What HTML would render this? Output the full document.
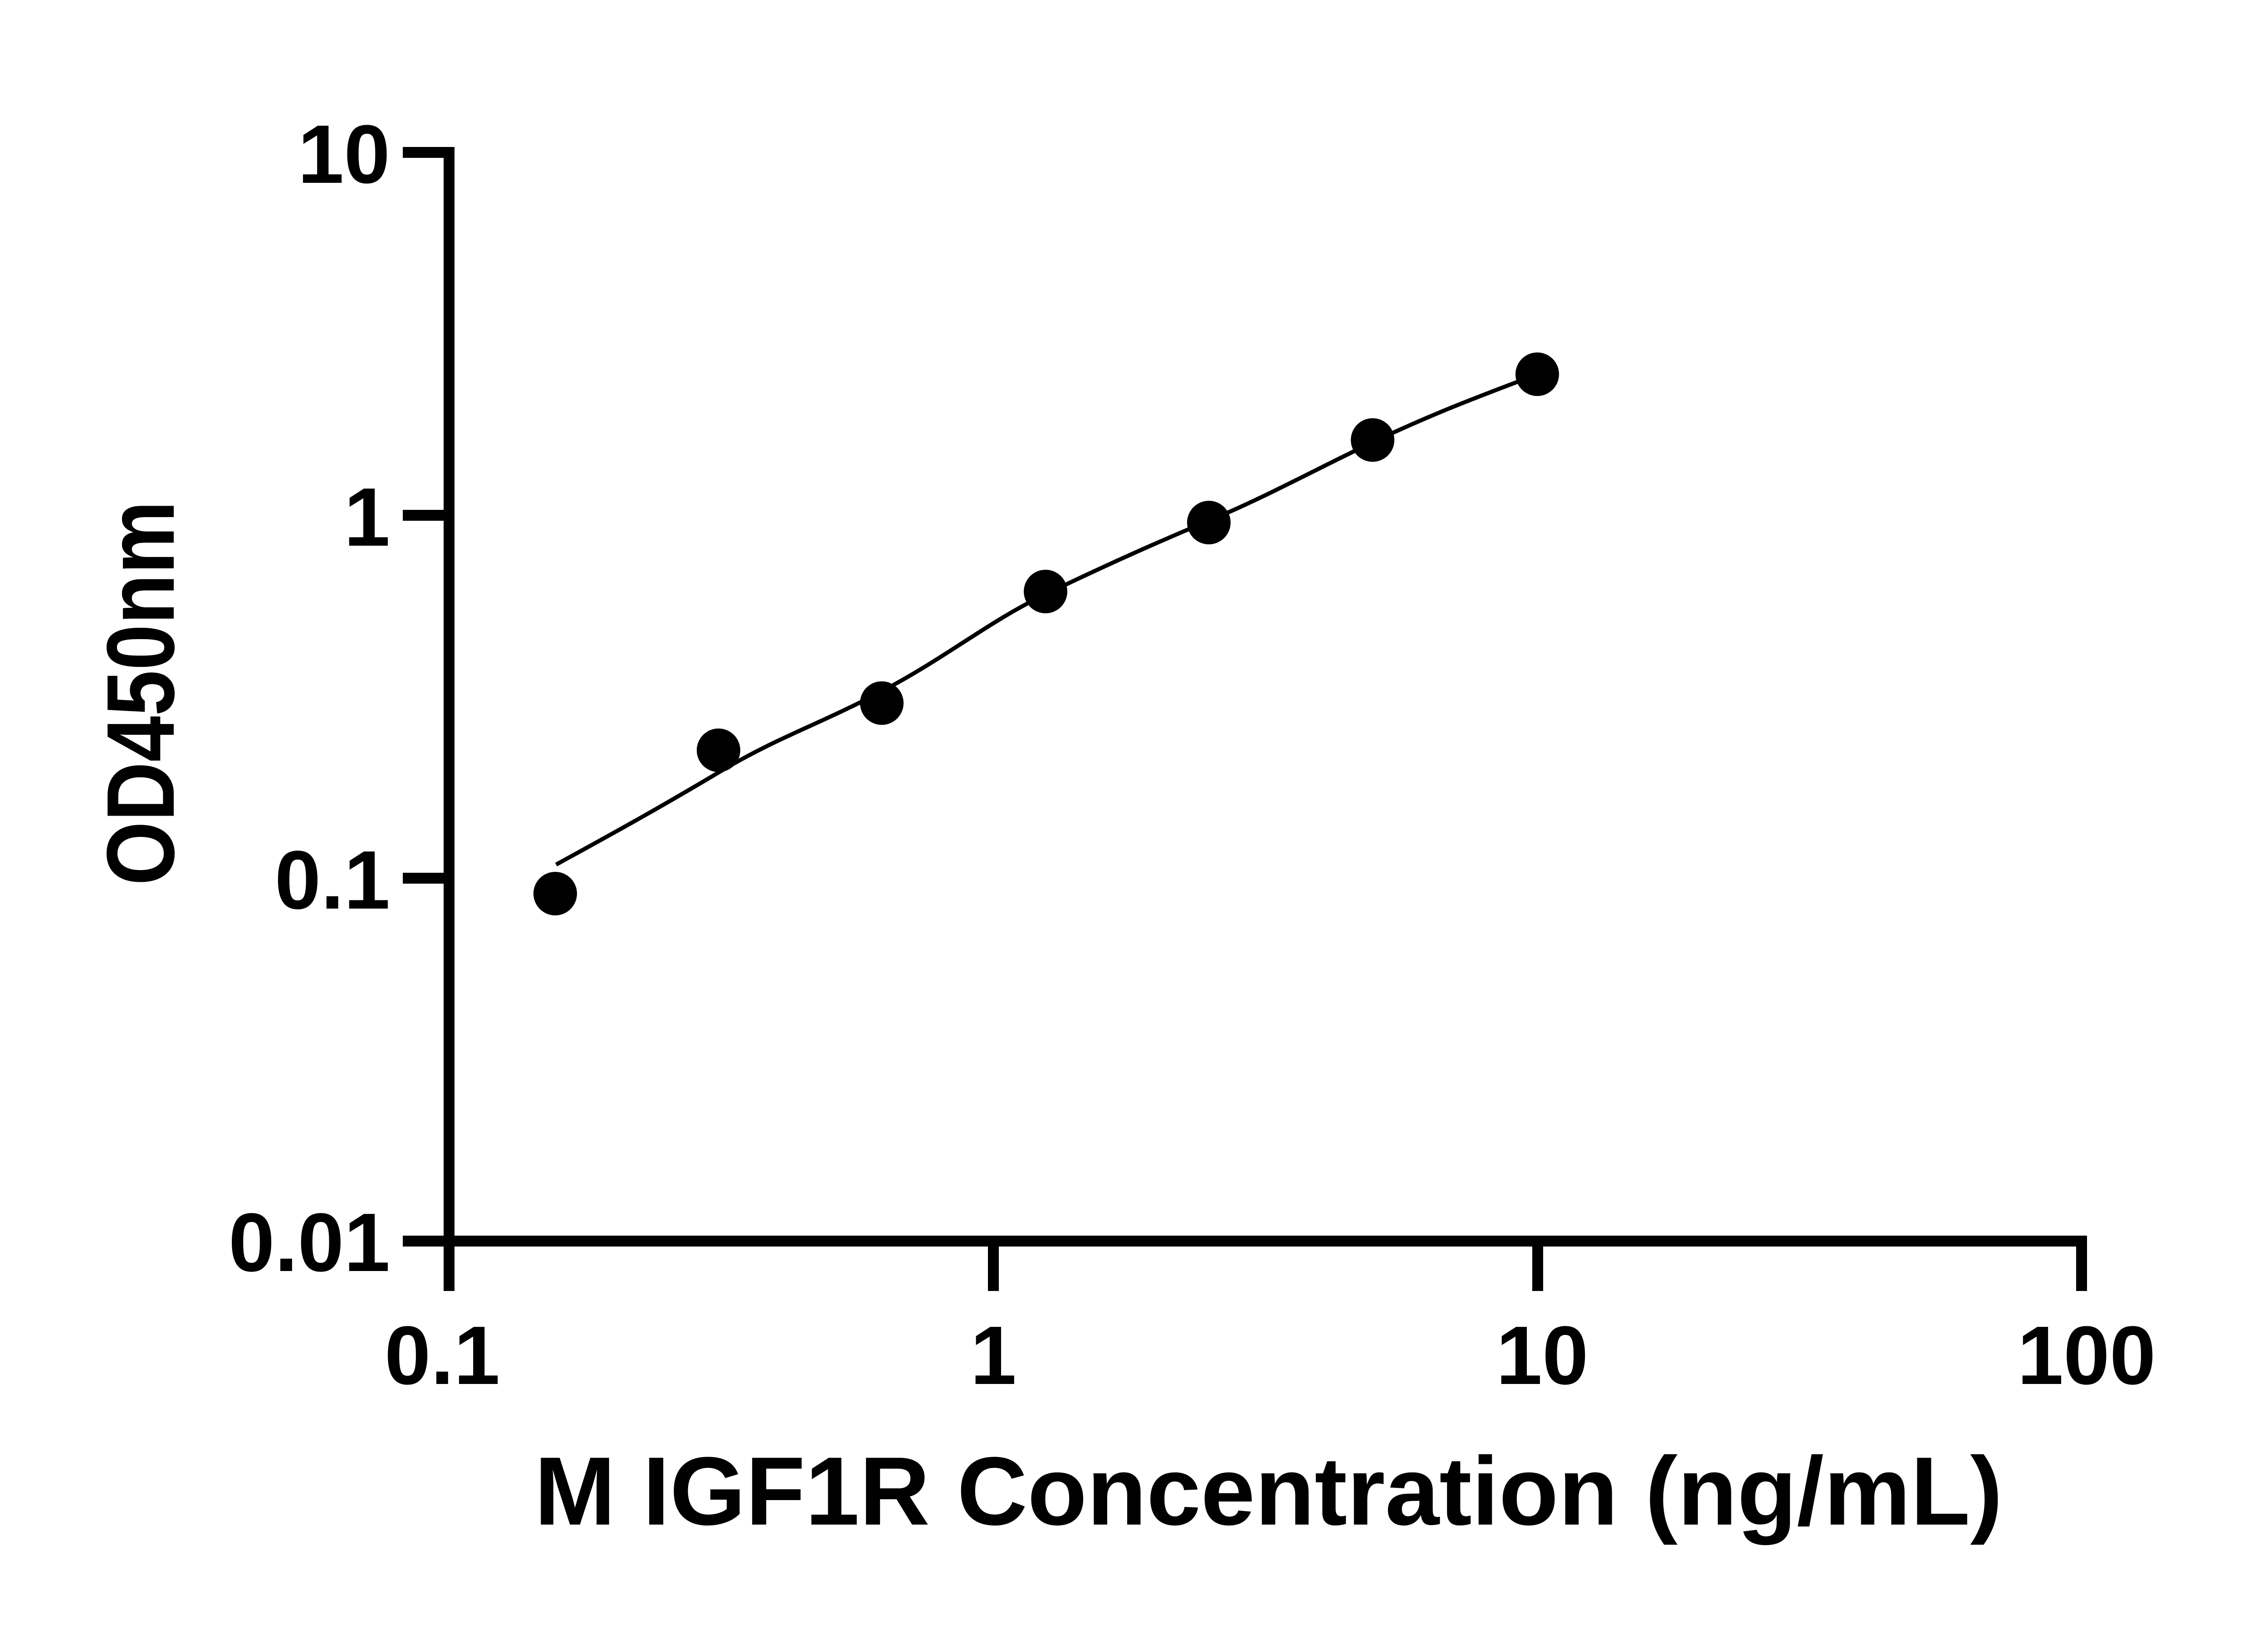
<!DOCTYPE html>
<html><head><meta charset="utf-8"><style>
html,body{margin:0;padding:0;background:#fff;}
svg{display:block;}
text{font-family:"Liberation Sans",Arial,sans-serif;font-weight:bold;fill:#000;}
</style></head><body>
<svg width="5142" height="3600" viewBox="0 0 5142 3600" xmlns="http://www.w3.org/2000/svg">
<rect width="5142" height="3600" fill="#fff"/>
<path d="M888 336 H990 V2736 H4589 V2846" fill="none" stroke="#000" stroke-width="24"/>
<line x1="888" y1="1136" x2="990" y2="1136" stroke="#000" stroke-width="24"/>
<line x1="888" y1="1936" x2="990" y2="1936" stroke="#000" stroke-width="24"/>
<line x1="888" y1="2736" x2="990" y2="2736" stroke="#000" stroke-width="24"/>
<line x1="990" y1="2736" x2="990" y2="2846" stroke="#000" stroke-width="24"/>
<line x1="2190" y1="2736" x2="2190" y2="2846" stroke="#000" stroke-width="24"/>
<line x1="3390" y1="2736" x2="3390" y2="2846" stroke="#000" stroke-width="24"/>
<g font-size="183" text-anchor="end">
<text x="860" y="403">10</text>
<text x="860" y="1203">1</text>
<text x="860" y="2003">0.1</text>
<text x="860" y="2802">0.01</text>
</g>
<g font-size="183" text-anchor="middle">
<text x="975" y="3051">0.1</text>
<text x="2190" y="3051">1</text>
<text x="3400" y="3051">10</text>
<text x="4600" y="3051">100</text>
</g>
<path d="M1226,1906 C1350,1838 1450,1783 1584,1703 S1800,1600 1944,1524 S2180,1370 2305,1310 S2540,1200 2665,1148 S2900,1035 3026,975 S3250,878 3350,840" fill="none" stroke="#000" stroke-width="9"/>
<g fill="#000">
<circle cx="1224" cy="1970" r="48"/>
<circle cx="1584" cy="1654" r="48"/>
<circle cx="1944" cy="1550" r="48"/>
<circle cx="2305" cy="1304" r="48"/>
<circle cx="2665" cy="1152" r="48"/>
<circle cx="3026" cy="970" r="48"/>
<circle cx="3389" cy="825" r="48"/>
</g>
<text x="0" y="0" font-size="212" textLength="848" lengthAdjust="spacingAndGlyphs" transform="translate(383,1952) rotate(-90)">OD450nm</text>
<text x="1178" y="3361" font-size="214" textLength="3237" lengthAdjust="spacingAndGlyphs">M IGF1R Concentration (ng/mL)</text>
</svg>
</body></html>
